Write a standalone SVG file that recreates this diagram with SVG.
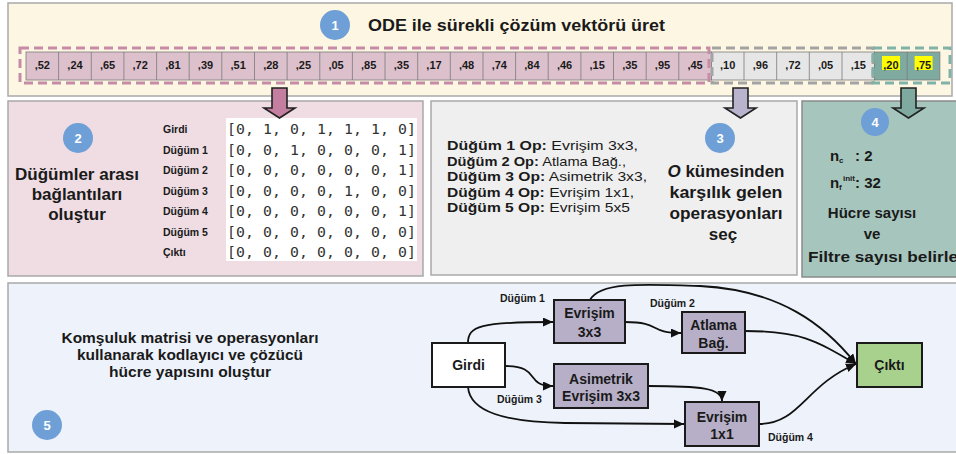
<svg xmlns="http://www.w3.org/2000/svg" width="956" height="454" viewBox="0 0 956 454">
  <defs>
    <style>
      .txt { font-family: "Liberation Sans", Arial, sans-serif; fill: #1a1a1a; }
      .b { font-weight: bold; }
      .cell { stroke: #7a7a7a; stroke-width: 0.8; }
      .cellp { fill: #dcc1cd; }
      .cellg { fill: #e6e6e6; }
      .cellt { fill: #7faaa0; }
      .celltxt { font-family: "Liberation Sans", Arial, sans-serif; font-weight: bold; font-size: 11px; fill: #1a1a1a; text-anchor: middle; }
      .badge circle { fill: #6e9fd6; }
      .badge text { font-family: "Liberation Sans", Arial, sans-serif; font-weight: bold; font-size: 13px; fill: #ffffff; text-anchor: middle; }
      .lbl { font-family: "Liberation Sans", Arial, sans-serif; font-weight: bold; font-size: 10.5px; fill: #1a1a1a; }
      .mono { font-family: "DejaVu Sans Mono", "Liberation Mono", monospace; font-size: 14.8px; fill: #333333; }
      .node rect { stroke: #1a1a1a; stroke-width: 2; }
      .node text { font-family: "Liberation Sans", Arial, sans-serif; font-weight: bold; font-size: 14px; fill: #1a1a1a; text-anchor: middle; }
      .op { fill: #b6afc7; }
      .edge { fill: none; stroke: #111111; stroke-width: 1.8; marker-end: url(#ah); }
      .blk { stroke: #222222; stroke-width: 1.6; }
    </style>
    <marker id="ah" markerUnits="userSpaceOnUse" markerWidth="11" markerHeight="10" refX="10" refY="4.5" orient="auto">
      <path d="M0,0 L10,4.5 L0,9 z" fill="#111111"/>
    </marker>
  </defs>

  <!-- Step 1: continuous solution vector -->
  <g id="step1">
    <rect x="8" y="3" width="944" height="93" fill="#fdf6e2" stroke="#a9a9a9" stroke-width="1.5"/>
    <g class="badge"><circle cx="335" cy="25" r="15"/><text x="335" y="30">1</text></g>
    <text class="txt b" x="368" y="31" font-size="17" textLength="297" lengthAdjust="spacingAndGlyphs">ODE ile sürekli çözüm vektörü üret</text>

    <g id="cells">
      <rect class="cell cellp" x="26" y="52" width="685.4" height="28"/>
      <rect class="cell cellg" x="711.4" y="52" width="163.2" height="28"/>
      <rect class="cell cellt" x="874.6" y="52" width="65.3" height="28"/>
      <path d="M58.6,52 V80 M91.3,52 V80 M123.9,52 V80 M156.6,52 V80 M189.2,52 V80 M221.8,52 V80 M254.5,52 V80 M287.1,52 V80 M319.8,52 V80 M352.4,52 V80 M385,52 V80 M417.7,52 V80 M450.3,52 V80 M483,52 V80 M515.6,52 V80 M548.2,52 V80 M580.9,52 V80 M613.5,52 V80 M646.2,52 V80 M678.8,52 V80 M744,52 V80 M776.7,52 V80 M809.3,52 V80 M842,52 V80 M907.2,52 V80" stroke="#7a7a7a" stroke-width="0.8"/>
      <rect x="882" y="56" width="18" height="14" fill="#ffff00"/>
      <rect x="914.6" y="56" width="18" height="14" fill="#ffff00"/>
      <g class="celltxt">
        <text x="42.3" y="69">,52</text><text x="75" y="69">,24</text><text x="107.6" y="69">,65</text>
        <text x="140.2" y="69">,72</text><text x="172.9" y="69">,81</text><text x="205.5" y="69">,39</text>
        <text x="238.2" y="69">,51</text><text x="270.8" y="69">,28</text><text x="303.4" y="69">,25</text>
        <text x="336.1" y="69">,05</text><text x="368.7" y="69">,85</text><text x="401.4" y="69">,35</text>
        <text x="434" y="69">,17</text><text x="466.6" y="69">,48</text><text x="499.3" y="69">,74</text>
        <text x="531.9" y="69">,84</text><text x="564.6" y="69">,46</text><text x="597.2" y="69">,15</text>
        <text x="629.8" y="69">,35</text><text x="662.5" y="69">,95</text><text x="695.1" y="69">,45</text>
        <text x="727.7" y="69">,10</text><text x="760.4" y="69">,96</text><text x="793" y="69">,72</text>
        <text x="825.6" y="69">,05</text><text x="858.3" y="69">,15</text>
        <text x="890.9" y="69">,20</text><text x="923.6" y="69">,75</text>
      </g>
      <rect x="20" y="48" width="689" height="35" fill="none" stroke="#c88ba7" stroke-width="3" stroke-dasharray="9,5"/>
      <rect x="712" y="48" width="161" height="35" fill="none" stroke="#a3a3a3" stroke-width="3" stroke-dasharray="9,5"/>
      <rect x="873" y="48" width="77" height="35" fill="none" stroke="#80b2a8" stroke-width="3" stroke-dasharray="9,5"/>
    </g>
  </g>

  <!-- Step 2: adjacency between nodes -->
  <g id="step2">
    <rect x="8" y="101" width="415" height="175" fill="#efdde3" stroke="#a9a9a9" stroke-width="1.5"/>
    <g class="badge"><circle cx="78" cy="138" r="15"/><text x="78" y="143">2</text></g>
    <g class="txt b" font-size="17" text-anchor="middle">
      <text x="77" y="180" textLength="124" lengthAdjust="spacingAndGlyphs">Düğümler arası</text>
      <text x="77" y="200">bağlantıları</text>
      <text x="77" y="220">oluştur</text>
    </g>
    <rect x="226" y="118" width="191" height="143" fill="#ffffff"/>
    <g class="lbl" font-size="11">
      <text x="163" y="133">Girdi</text>
      <text x="163" y="153.5">Düğüm 1</text>
      <text x="163" y="174">Düğüm 2</text>
      <text x="163" y="194.5">Düğüm 3</text>
      <text x="163" y="215">Düğüm 4</text>
      <text x="163" y="235.5">Düğüm 5</text>
      <text x="163" y="256">Çıktı</text>
    </g>
    <g class="mono">
      <text x="227" y="134" textLength="189">[0, 1, 0, 1, 1, 1, 0]</text>
      <text x="227" y="154.5" textLength="189">[0, 0, 1, 0, 0, 0, 1]</text>
      <text x="227" y="175" textLength="189">[0, 0, 0, 0, 0, 0, 1]</text>
      <text x="227" y="195.5" textLength="189">[0, 0, 0, 0, 1, 0, 0]</text>
      <text x="227" y="216" textLength="189">[0, 0, 0, 0, 0, 0, 1]</text>
      <text x="227" y="236.5" textLength="189">[0, 0, 0, 0, 0, 0, 0]</text>
      <text x="227" y="257" textLength="189">[0, 0, 0, 0, 0, 0, 0]</text>
    </g>
  </g>

  <!-- Step 3: operation selection -->
  <g id="step3">
    <rect x="431" y="101" width="366" height="174" fill="#efefef" stroke="#a9a9a9" stroke-width="1.5"/>
    <g class="txt" font-size="13">
      <text x="447" y="150" textLength="191" lengthAdjust="spacingAndGlyphs"><tspan class="b">Düğüm 1 Op:</tspan> Evrişim 3x3,</text>
      <text x="447" y="166" textLength="179" lengthAdjust="spacingAndGlyphs"><tspan class="b">Düğüm 2 Op:</tspan> Atlama Bağ.,</text>
      <text x="447" y="181" textLength="200" lengthAdjust="spacingAndGlyphs"><tspan class="b">Düğüm 3 Op:</tspan> Asimetrik 3x3,</text>
      <text x="447" y="197" textLength="187" lengthAdjust="spacingAndGlyphs"><tspan class="b">Düğüm 4 Op:</tspan> Evrişim 1x1,</text>
      <text x="447" y="212" textLength="183" lengthAdjust="spacingAndGlyphs"><tspan class="b">Düğüm 5 Op:</tspan> Evrişim 5x5</text>
    </g>
    <g class="badge"><circle cx="720" cy="138" r="15"/><text x="720" y="143">3</text></g>
    <g class="txt b" font-size="17" text-anchor="middle">
      <text x="726" y="177" textLength="117" lengthAdjust="spacingAndGlyphs"><tspan font-style="italic">O</tspan> kümesinden</text>
      <text x="726" y="198" textLength="113" lengthAdjust="spacingAndGlyphs">karşılık gelen</text>
      <text x="726" y="219" textLength="113" lengthAdjust="spacingAndGlyphs">operasyonları</text>
      <text x="723" y="240">seç</text>
    </g>
  </g>

  <!-- Step 4: cell and filter counts -->
  <g id="step4">
    <rect x="802" y="101" width="160" height="176" fill="#a6c6bd" stroke="#8a8a8a" stroke-width="1.5"/>
    <g class="badge"><circle cx="875" cy="122" r="14"/><text x="875" y="127">4</text></g>
    <g class="txt b" font-size="15">
      <text x="830" y="161">n</text>
      <text x="839" y="163" font-size="8">c</text>
      <text x="855" y="161">: 2</text>
      <text x="830" y="188">n</text>
      <text x="839" y="190" font-size="8">f</text>
      <text x="843" y="181" font-size="8">init</text>
      <text x="855" y="188">: 32</text>
      <text x="872" y="218" text-anchor="middle">Hücre sayısı</text>
      <text x="872" y="239" text-anchor="middle">ve</text>
      <text x="808" y="262" textLength="150" lengthAdjust="spacingAndGlyphs">Filtre sayısı belirle</text>
    </g>
  </g>

  <!-- block arrows from the vector down to steps 2, 3 and 4 -->
  <g id="step-arrows">
    <polygon class="blk" points="272,88 287,88 287,108 295,108 279.5,118 264,108 272,108" fill="#c47e9f"/>
    <polygon class="blk" points="733,88 748,88 748,108 756,108 740.5,118 725,108 733,108" fill="#b9b3cd"/>
    <polygon class="blk" points="901,88 916,88 916,108 924,108 908.5,118 893,108 901,108" fill="#7faaa0"/>
  </g>

  <!-- Step 5: build the cell structure -->
  <g id="step5">
    <rect x="8" y="283" width="952" height="169" fill="#eef3fb" stroke="#a9a9a9" stroke-width="1.5"/>
    <g class="txt b" font-size="14.5" text-anchor="middle">
      <text x="190" y="343" textLength="257" lengthAdjust="spacingAndGlyphs">Komşuluk matrisi ve operasyonları</text>
      <text x="190" y="360" textLength="226" lengthAdjust="spacingAndGlyphs">kullanarak kodlayıcı ve çözücü</text>
      <text x="190" y="377" textLength="162" lengthAdjust="spacingAndGlyphs">hücre yapısını oluştur</text>
    </g>
    <g class="badge"><circle cx="47" cy="425" r="15"/><text x="47" y="430">5</text></g>
  </g>

  <!-- cell graph connectors -->
  <g id="connectors">
    <path class="edge" d="M468,343 C468,326 480,322 553,322"/>
    <path class="edge" d="M625,322 C662,322 648,333 681,333"/>
    <path class="edge" d="M590,300 C600,282 640,284 700,286 C780,290 825,325 856,364"/>
    <path class="edge" d="M745,331 C800,331 815,340 856,364"/>
    <path class="edge" d="M505,366 C542,366 524,386 553,386"/>
    <path class="edge" d="M648,386 C700,386 722,388 722,401"/>
    <path class="edge" d="M468,387 C470,412 505,422 565,423 L684,424"/>
    <path class="edge" d="M759,424 C800,424 805,385 856,364"/>
  </g>

  <g class="lbl">
    <text x="500" y="302">Düğüm 1</text>
    <text x="650" y="307">Düğüm 2</text>
    <text x="497" y="403">Düğüm 3</text>
    <text x="768" y="441">Düğüm 4</text>
  </g>

  <g id="girdi" class="node">
    <rect x="432" y="343" width="73" height="44" fill="#ffffff"/>
    <text x="468.5" y="370">Girdi</text>
  </g>
  <g id="dugum1" class="node">
    <rect class="op" x="554" y="300" width="71" height="43"/>
    <text x="589.5" y="318">Evrişim</text>
    <text x="589.5" y="337">3x3</text>
  </g>
  <g id="dugum2" class="node">
    <rect class="op" x="682" y="312" width="63" height="41"/>
    <text x="713.5" y="330">Atlama</text>
    <text x="713.5" y="348">Bağ.</text>
  </g>
  <g id="dugum3" class="node">
    <rect class="op" x="554" y="364" width="94" height="44"/>
    <text x="601" y="384">Asimetrik</text>
    <text x="601" y="401">Evrişim 3x3</text>
  </g>
  <g id="dugum4" class="node">
    <rect class="op" x="685" y="402" width="74" height="44"/>
    <text x="722" y="422">Evrişim</text>
    <text x="722" y="439">1x1</text>
  </g>
  <g id="cikti" class="node">
    <rect x="857" y="343" width="65" height="44" fill="#a9d18e"/>
    <text x="889.5" y="370">Çıktı</text>
  </g>
</svg>
